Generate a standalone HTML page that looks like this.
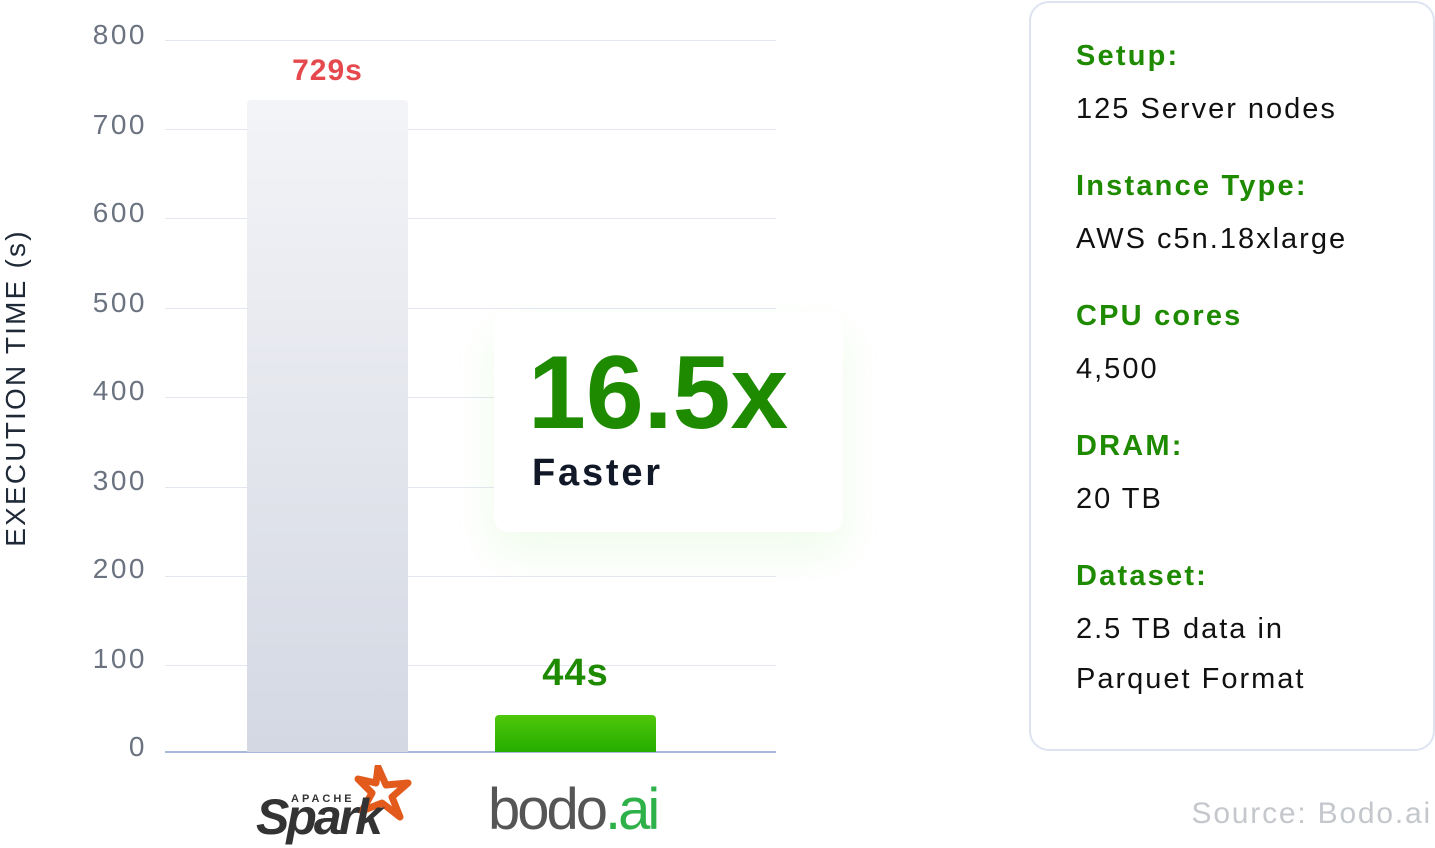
<!DOCTYPE html>
<html><head><style>
body{margin:0;width:1435px;height:848px;background:#fff;position:relative;overflow:hidden;font-family:"Liberation Sans",sans-serif}
.a{position:absolute}
.g{position:absolute;left:165px;width:611px;height:1px;background:#e3e7f1}
.yl{position:absolute;left:50px;width:97px;text-align:right;font-size:28px;color:#6b7280;line-height:28px;letter-spacing:2.5px}
.lb{position:absolute;left:1076px;font-size:29px;font-weight:bold;color:#1e8a00;line-height:29px;letter-spacing:2.2px}
.vl{position:absolute;left:1076px;font-size:29px;color:#111;line-height:29px;letter-spacing:2px}
</style></head><body>
<div class="g" style="top:40px"></div>
<div class="g" style="top:129px"></div>
<div class="g" style="top:218px"></div>
<div class="g" style="top:308px"></div>
<div class="g" style="top:397px"></div>
<div class="g" style="top:487px"></div>
<div class="g" style="top:576px"></div>
<div class="g" style="top:665px"></div>
<div class="a" style="left:165px;top:751px;width:611px;height:2px;background:#a9b8dc"></div>
<div class="yl" style="top:21px">800</div>
<div class="yl" style="top:111px">700</div>
<div class="yl" style="top:199px">600</div>
<div class="yl" style="top:289px">500</div>
<div class="yl" style="top:377px">400</div>
<div class="yl" style="top:467px">300</div>
<div class="yl" style="top:555px">200</div>
<div class="yl" style="top:645px">100</div>
<div class="yl" style="top:733px">0</div>
<div class="a" style="left:16px;top:388px;transform:translate(-50%,-50%) rotate(-90deg);white-space:nowrap;font-size:28px;color:#1f2937;letter-spacing:2.2px">EXECUTION TIME (s)</div>
<div class="a" style="left:247px;top:100px;width:161px;height:652px;border-radius:4px 4px 0 0;background:linear-gradient(#f3f4f7,#d4d8e3)"></div>
<div class="a" style="left:247px;top:54px;width:161px;text-align:center;font-size:30px;font-weight:bold;color:#e5484d;letter-spacing:1px">729s</div>
<div class="a" style="left:495px;top:715px;width:161px;height:37px;border-radius:4px 4px 0 0;background:linear-gradient(#4ec70a,#25ad00)"></div>
<div class="a" style="left:495px;top:652px;width:161px;text-align:center;font-size:38px;font-weight:bold;color:#1e8a00;letter-spacing:1px">44s</div>
<div class="a" style="left:494px;top:312px;width:349px;height:220px;background:#fff;border-radius:14px;box-shadow:0 20px 40px rgba(120,230,90,0.12)"></div>
<div class="a" style="left:528px;top:338px;font-size:104px;font-weight:bold;color:#1e8a00;letter-spacing:0px;line-height:110px">16.5x</div>
<div class="a" style="left:532px;top:452px;font-size:38px;font-weight:bold;color:#111827;letter-spacing:2.8px">Faster</div>
<svg class="a" style="left:350px;top:765px" width="64" height="56" viewBox="0 0 64 56"><polygon points="28,2 36,20 58,18 42,32 50,52 32,38 12,46 22,28 8,14 26,18" fill="none" stroke="#e25a1c" stroke-width="7" stroke-linejoin="round"/></svg>
<div class="a" style="left:291px;top:793px;font-size:11px;font-weight:bold;color:#333;letter-spacing:3px">APACHE</div>
<div class="a" style="left:256px;top:788px;font-size:50px;font-weight:bold;font-style:italic;color:#333;letter-spacing:-3px">Spark</div>
<div class="a" style="left:488px;top:776px;font-size:58px;color:#555;letter-spacing:-3px;font-weight:300">bodo<span style="color:#2fb14a">.ai</span></div>
<div class="a" style="left:1029px;top:1px;width:402px;height:746px;border:2px solid #dde3f0;border-radius:20px"></div>
<div class="lb" style="top:42px">Setup:</div>
<div class="vl" style="top:95px">125 Server nodes</div>
<div class="lb" style="top:172px">Instance Type:</div>
<div class="vl" style="top:225px">AWS c5n.18xlarge</div>
<div class="lb" style="top:302px">CPU cores</div>
<div class="vl" style="top:355px">4,500</div>
<div class="lb" style="top:432px">DRAM:</div>
<div class="vl" style="top:485px">20 TB</div>
<div class="lb" style="top:562px">Dataset:</div>
<div class="vl" style="top:615px">2.5 TB data in</div>
<div class="vl" style="top:665px">Parquet Format</div>
<div class="a" style="right:3px;top:797px;font-size:30px;color:#c4c7cc;letter-spacing:1.8px">Source: Bodo.ai</div>
</body></html>
